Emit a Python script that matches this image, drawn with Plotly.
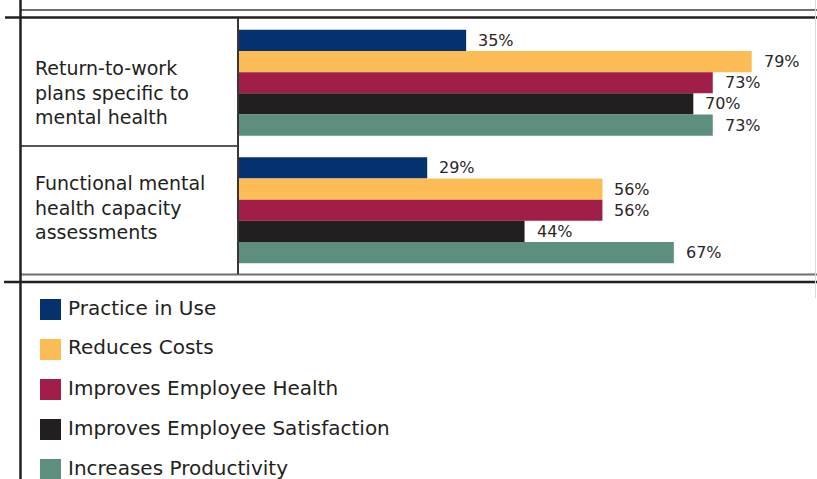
import plotly.graph_objects as go

# ---- data -------------------------------------------------------------
categories = [
    "Return-to-work plans specific to mental health",
    "Functional mental health capacity assessments",
]
category_lines = [
    ["Return-to-work", "plans specific to", "mental health"],
    ["Functional mental", "health capacity", "assessments"],
]
series_names = [
    "Practice in Use",
    "Reduces Costs",
    "Improves Employee Health",
    "Improves Employee Satisfaction",
    "Increases Productivity",
]
practice_in_use = [35, 29]
reduces_costs = [79, 56]
improves_health = [73, 56]
improves_satisfaction = [70, 44]
increases_productivity = [73, 67]
series_values = [
    practice_in_use,
    reduces_costs,
    improves_health,
    improves_satisfaction,
    increases_productivity,
]
series_colors = ["#05326E", "#FDBD56", "#A11E48", "#231F20", "#5E8E7D"]

# ---- geometry ---------------------------------------------------------
W, H = 817, 479
L, R, T, B = 239, 817, 19, 274          # plot area in pixels
X_MAX = 89.06                            # percent shown across the plot width
BARGAP = 0.169
TEXT = "#231F20"
FONT = "DejaVu Sans"


def px_x(px):
    return (px - L) / (R - L)


def px_y(py):
    return (B - py) / (B - T)


fig = go.Figure()
for name, vals, color in zip(series_names, series_values, series_colors):
    fig.add_trace(go.Bar(
        y=categories, x=vals, orientation="h", name=name,
        marker=dict(color=color, line=dict(width=0)),
        showlegend=False, hoverinfo="skip",
    ))

annotations = []

# value labels to the right of each bar
cat_px = (B - T) / len(categories)
bar_px = (1 - BARGAP) * cat_px / len(series_names)
mid = (len(series_names) - 1) / 2
for i, vals in enumerate(series_values):
    for cat, v in zip(categories, vals):
        annotations.append(dict(
            x=v, y=cat, xref="x", yref="y", text=f"{v}%",
            showarrow=False, xanchor="left", yanchor="middle",
            xshift=10, yshift=-(i - mid) * bar_px,
            font=dict(family=FONT, size=16, color="#2A2627"),
        ))

# row labels in the left column
label_shift = [-10, 2.5]
for cat, lines, ys in zip(categories, category_lines, label_shift):
    annotations.append(dict(
        x=px_x(33), y=cat, xref="paper", yref="y", text="<br>".join(lines),
        showarrow=False, xanchor="left", yanchor="middle", align="left",
        yshift=ys, font=dict(family=FONT, size=19, color=TEXT),
    ))

shapes = []


def hline(py, x0, x1, color, width):
    shapes.append(dict(type="line", xref="paper", yref="paper",
                       x0=px_x(x0), x1=px_x(x1), y0=px_y(py), y1=px_y(py),
                       line=dict(color=color, width=width)))


def vline(px, y0, y1, color, width):
    shapes.append(dict(type="line", xref="paper", yref="paper",
                       x0=px_x(px), x1=px_x(px), y0=px_y(y0), y1=px_y(y1),
                       line=dict(color=color, width=width)))


# table rules
hline(10, 20, 817, "#6D6E71", 2)
hline(17.5, 5, 817, TEXT, 2.5)
hline(146, 20, 238, TEXT, 1.5)
hline(274.5, 20, 817, "#6D6E71", 2)
hline(282, 4, 817, TEXT, 2.5)
vline(20.5, 0, 479, TEXT, 2.5)
vline(238, 18, 274, "#3A3637", 2)
vline(815.5, 0, 298, "#DADADA", 1)

# legend: swatches and names
for k, (name, color) in enumerate(zip(series_names, series_colors)):
    top = 299 + 40 * k
    shapes.append(dict(type="rect", xref="paper", yref="paper",
                       x0=px_x(40), x1=px_x(61), y0=px_y(top), y1=px_y(top + 21),
                       fillcolor=color, line=dict(width=0)))
    annotations.append(dict(
        x=px_x(66), y=px_y(top + 8.5), xref="paper", yref="paper", text=name,
        showarrow=False, xanchor="left", yanchor="middle",
        font=dict(family=FONT, size=20, color=TEXT),
    ))

fig.update_layout(
    width=W, height=H,
    margin=dict(l=L, r=W - R, t=T, b=H - B, pad=0),
    paper_bgcolor="white", plot_bgcolor="white",
    barmode="group", bargap=BARGAP, bargroupgap=0,
    xaxis=dict(range=[0, X_MAX], visible=False, fixedrange=True),
    yaxis=dict(type="category", range=[1.5, -0.5], visible=False, fixedrange=True),
    annotations=annotations, shapes=shapes,
    showlegend=False,
)

fig.write_html("out.html")
